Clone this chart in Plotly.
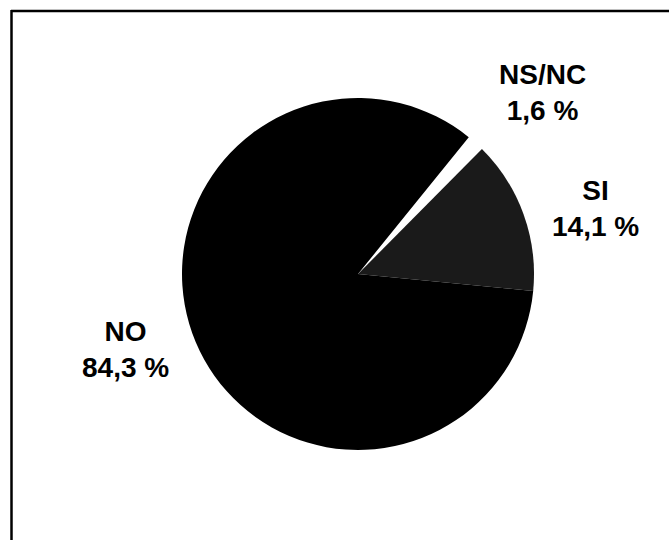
import plotly.graph_objects as go

labels = ["NS/NC", "SI", "NO"]
values = [1.6, 14.1, 84.3]
value_text = ["1,6 %", "14,1 %", "84,3 %"]
colors = ["#ffffff", "#1a1a1a", "#000000"]

W, H = 669, 540

# pie geometry (pixels)
cx, cy, r = 358, 274, 176

fig = go.Figure()
fig.add_trace(go.Pie(
    labels=labels,
    values=values,
    sort=False,
    direction="clockwise",
    rotation=39,
    textinfo="none",
    hoverinfo="label+percent",
    marker=dict(colors=colors, line=dict(width=0)),
    domain=dict(x=[(cx - r) / W, (cx + r) / W],
                y=[(H - cy - r) / H, (H - cy + r) / H]),
    showlegend=False,
))

# label positions (pixel centres)
label_pos = {"NS/NC": (542, 92), "SI": (595, 208), "NO": (125, 349)}

for lab, vt in zip(labels, value_text):
    px, py = label_pos[lab]
    fig.add_annotation(
        x=px / W, y=1 - py / H, xref="paper", yref="paper",
        text=f"{lab}<br>{vt}", showarrow=False,
        xanchor="center", yanchor="middle", align="center",
        font=dict(family="Liberation Sans, Arial, sans-serif", size=28,
                  color="#000000", weight="bold"),
    )

# frame (cut off at right and bottom)
fig.add_shape(type="line", xref="paper", yref="paper",
              x0=11 / W, x1=1, y0=1 - 11 / H, y1=1 - 11 / H,
              line=dict(color="#000000", width=2.5))
fig.add_shape(type="line", xref="paper", yref="paper",
              x0=11.5 / W, x1=11.5 / W, y0=0, y1=1 - 10 / H,
              line=dict(color="#000000", width=2.5))

fig.update_layout(
    width=W, height=H,
    margin=dict(l=0, r=0, t=0, b=0),
    paper_bgcolor="#ffffff",
    plot_bgcolor="#ffffff",
)

fig.write_html("out.html",
               config={"displayModeBar": False},
               post_script="document.body.style.margin='0';document.body.style.overflow='hidden';")
